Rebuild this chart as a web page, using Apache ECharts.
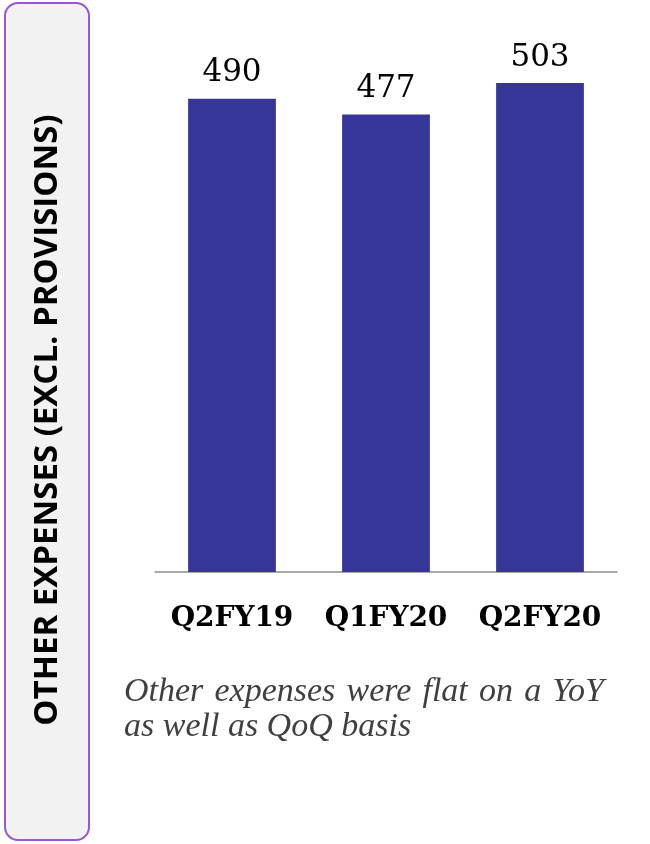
<!DOCTYPE html>
<html>
<head>
<meta charset="utf-8">
<script src="https://cdn.jsdelivr.net/npm/echarts@6/dist/echarts.min.js"></script>
<style>
html,body{margin:0;padding:0;background:#ffffff;}
#chart{width:650px;height:844px;}
</style>
</head>
<body>
<div id="chart"></div>
<script>
// ---- data ----
const categories = ['Q2FY19', 'Q1FY20', 'Q2FY20'];
const values = [490, 477, 503];
const sideTitle = 'OTHER EXPENSES (EXCL. PROVISIONS)';
const noteLines = ['Other expenses were flat on a YoY', 'as well as QoQ basis'];

// ---- justify first note line ----
const noteFont = "italic 34px 'Liberation Serif'";
const measure = document.createElement('canvas').getContext('2d');
measure.font = noteFont;
const noteLeft = 124, noteRight = 604;
const noteGraphics = [];
noteLines.forEach(function (line, li) {
  const y = 692 + li * 35;
  if (li === 0) {
    const words = line.split(' ');
    const widths = words.map(function (w) { return measure.measureText(w).width; });
    const total = widths.reduce(function (a, b) { return a + b; }, 0);
    const gap = (noteRight - noteLeft - total) / (words.length - 1);
    let x = noteLeft;
    words.forEach(function (w, i) {
      noteGraphics.push({
        type: 'text', x: x, y: y,
        style: { text: w, font: noteFont, fill: '#404040', align: 'left', verticalAlign: 'middle' }
      });
      x += widths[i] + gap;
    });
  } else {
    noteGraphics.push({
      type: 'text', x: noteLeft, y: y,
      style: { text: line, font: noteFont, fill: '#404040', align: 'left', verticalAlign: 'middle' }
    });
  }
});

const chart = echarts.init(document.getElementById('chart'), null, { renderer: 'canvas' });
chart.setOption({
  backgroundColor: '#ffffff',
  animation: false,
  grid: { left: 155, right: 33, top: 26, bottom: 272, containLabel: false },
  xAxis: {
    type: 'category',
    data: categories,
    axisLine: { show: true, lineStyle: { color: '#8c8c8c', width: 1.5 } },
    axisTick: { show: false },
    axisLabel: {
      interval: 0,
      hideOverlap: false,
      margin: 33,
      fontFamily: 'DejaVu Serif',
      fontWeight: 'bold',
      fontSize: 28,
      color: '#000000'
    }
  },
  yAxis: {
    type: 'value',
    min: 100,
    max: 550,
    show: false,
    splitLine: { show: false }
  },
  series: [{
    type: 'bar',
    data: values,
    barWidth: '57%',
    itemStyle: { color: '#363699' },
    label: {
      show: true,
      position: 'top',
      distance: 10,
      fontFamily: 'DejaVu Serif',
      fontSize: 31,
      color: '#000000'
    }
  }],
  graphic: [
    {
      type: 'rect',
      z: -1,
      shape: { x: 5, y: 3, width: 84, height: 837, r: 13 },
      style: { fill: '#f2f2f2', stroke: '#9b55d6', lineWidth: 2 }
    },
    {
      type: 'text',
      x: 48, y: 420,
      rotation: Math.PI / 2,
      style: {
        text: sideTitle,
        font: "bold 33px 'Open Sans'",
        fill: '#000000',
        align: 'center',
        verticalAlign: 'middle'
      }
    }
  ].concat(noteGraphics)
});
</script>
</body>
</html>
